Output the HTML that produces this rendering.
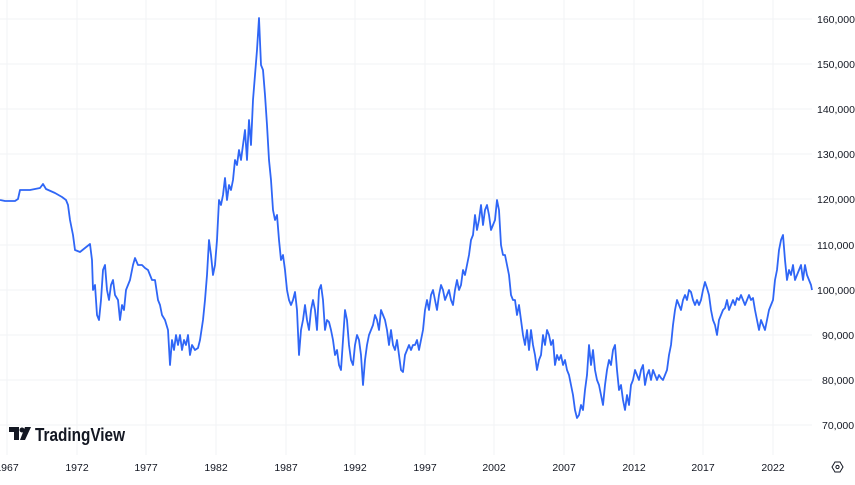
<!DOCTYPE html>
<html><head><meta charset="utf-8"><style>
body{margin:0;background:#fff;width:855px;height:480px;overflow:hidden;font-family:"Liberation Sans",sans-serif}
</style></head><body>
<svg width="855" height="480" xmlns="http://www.w3.org/2000/svg">
<g stroke="#f2f3f5" stroke-width="1">
<line x1="0" y1="19" x2="812" y2="19"/><line x1="0" y1="64" x2="812" y2="64"/><line x1="0" y1="109" x2="812" y2="109"/><line x1="0" y1="154" x2="812" y2="154"/><line x1="0" y1="199" x2="812" y2="199"/><line x1="0" y1="245" x2="812" y2="245"/><line x1="0" y1="290" x2="812" y2="290"/><line x1="0" y1="335" x2="812" y2="335"/><line x1="0" y1="380" x2="812" y2="380"/><line x1="0" y1="425" x2="812" y2="425"/>
<line x1="7" y1="0" x2="7" y2="455"/><line x1="77" y1="0" x2="77" y2="455"/><line x1="146" y1="0" x2="146" y2="455"/><line x1="216" y1="0" x2="216" y2="455"/><line x1="286" y1="0" x2="286" y2="455"/><line x1="355" y1="0" x2="355" y2="455"/><line x1="425" y1="0" x2="425" y2="455"/><line x1="494" y1="0" x2="494" y2="455"/><line x1="564" y1="0" x2="564" y2="455"/><line x1="634" y1="0" x2="634" y2="455"/><line x1="703" y1="0" x2="703" y2="455"/><line x1="773" y1="0" x2="773" y2="455"/>
</g>
<polyline fill="none" stroke="#2f66f6" stroke-width="1.8" stroke-linejoin="round" points="0,200 5,201 15,201 18,199 20,190 30,190 40,188 43,184 46,189 55,193 62,197 66,200 68,205 70,220 73,235 75,250 80,252 85,248 90,244 92,260 93,290 95,285 97,315 99,320 101,300 103,270 105,265 107,290 109,300 111,285 113,280 115,295 118,300 120,320 122,305 124,310 126,290 128,285 130,280 133,265 135,258 138,265 142,265 145,268 148,270 150,275 152,280 155,280 158,300 160,305 162,315 165,320 168,330 170,365 172,340 174,350 176,335 178,345 180,335 182,350 184,340 186,345 188,335 190,355 192,345 195,350 198,348 200,340 203,320 205,300 207,275 209,240 211,255 213,275 215,265 217,240 219,200 221,205 223,195 225,178 227,200 229,185 231,190 233,180 235,160 237,165 239,150 241,160 243,145 245,130 247,160 249,120 251,145 253,100 255,75 257,50 259,18 261,65 263,70 265,95 267,125 269,160 271,180 273,210 275,220 277,215 279,240 281,260 283,255 285,270 287,290 289,300 291,305 293,300 295,292 297,310 299,355 301,330 303,320 305,305 307,320 309,330 311,310 313,300 315,310 317,330 319,290 321,285 323,300 325,330 327,320 329,322 331,330 333,340 335,355 337,350 339,365 341,370 343,340 345,310 347,320 349,345 351,360 353,365 355,345 357,335 359,340 361,355 363,385 365,360 367,345 369,335 371,330 373,325 375,315 377,320 379,330 381,310 383,315 385,320 387,330 389,345 391,330 393,345 395,350 397,340 399,355 401,370 403,372 405,355 407,350 409,345 411,350 413,345 415,345 417,340 419,350 421,340 423,330 425,310 427,300 429,310 431,295 433,290 435,300 437,310 439,295 441,285 443,290 445,300 447,295 449,290 451,300 453,305 455,290 457,280 459,290 461,285 463,270 465,275 467,265 469,255 471,240 473,235 475,215 477,230 479,220 481,205 483,225 485,210 487,205 489,215 491,230 493,225 495,220 497,200 499,210 501,245 503,255 505,255 507,265 509,275 511,295 513,300 515,300 517,315 519,305 521,320 523,335 525,345 527,330 529,350 531,330 533,345 535,355 537,370 539,360 541,355 543,335 545,345 547,330 549,335 551,345 553,340 555,365 557,355 559,360 561,355 563,365 565,360 567,370 569,375 571,385 573,395 575,410 577,418 579,415 581,405 583,410 585,390 587,375 589,345 591,365 593,350 595,370 597,380 599,385 601,395 603,405 605,385 607,370 609,360 611,365 613,350 615,345 617,370 619,390 621,385 623,400 625,410 627,395 629,405 631,385 633,380 635,370 637,375 639,380 641,370 643,365 645,385 647,375 649,370 651,380 653,370 655,375 657,380 659,375 661,378 663,380 665,375 667,370 669,355 671,345 673,325 675,310 677,300 679,305 681,310 683,300 685,295 687,300 689,290 691,292 693,300 695,305 697,300 699,305 701,300 703,290 705,282 707,288 709,295 711,310 713,320 715,325 717,335 719,320 721,315 723,310 725,308 727,300 729,310 731,305 733,300 735,305 737,298 739,300 741,295 743,300 745,305 747,300 749,295 751,300 753,298 755,310 757,320 759,330 761,320 763,325 765,330 767,320 769,310 771,305 773,300 775,280 777,270 779,250 781,240 783,235 785,260 787,280 789,270 791,275 793,265 795,280 797,275 799,270 801,265 803,280 805,265 807,275 809,280 811,285 812,290"/>
<g fill="#131722" font-size="10.5" font-family="Liberation Sans,sans-serif">
<text x="817" y="23">160,000</text><text x="817" y="68">150,000</text><text x="817" y="113">140,000</text><text x="817" y="158">130,000</text><text x="817" y="203">120,000</text><text x="817" y="249">110,000</text><text x="817" y="294">100,000</text><text x="822" y="339">90,000</text><text x="822" y="384">80,000</text><text x="822" y="429">70,000</text>
</g>
<g fill="#131722" font-size="10.5" font-family="Liberation Sans,sans-serif" text-anchor="middle">
<text x="7" y="471">1967</text><text x="77" y="471">1972</text><text x="146" y="471">1977</text><text x="216" y="471">1982</text><text x="286" y="471">1987</text><text x="355" y="471">1992</text><text x="425" y="471">1997</text><text x="494" y="471">2002</text><text x="564" y="471">2007</text><text x="634" y="471">2012</text><text x="703" y="471">2017</text><text x="773" y="471">2022</text>
</g>
<g fill="#131722">
<path d="M9 427h10v13h-5v-8h-5z"/><circle cx="22" cy="430" r="2.5"/><path d="M25 427h6l-6 13h-5z"/>
<text x="35" y="441" font-size="18" font-weight="bold" textLength="90" lengthAdjust="spacingAndGlyphs" font-family="Liberation Sans,sans-serif">TradingView</text>
</g>
<polygon points="835,462 840,462 843,467 840,472 835,472 832,467" fill="none" stroke="#131722" stroke-width="1"/>
<circle cx="837.5" cy="467" r="1.6" fill="none" stroke="#131722" stroke-width="1"/>
</svg>
</body></html>
